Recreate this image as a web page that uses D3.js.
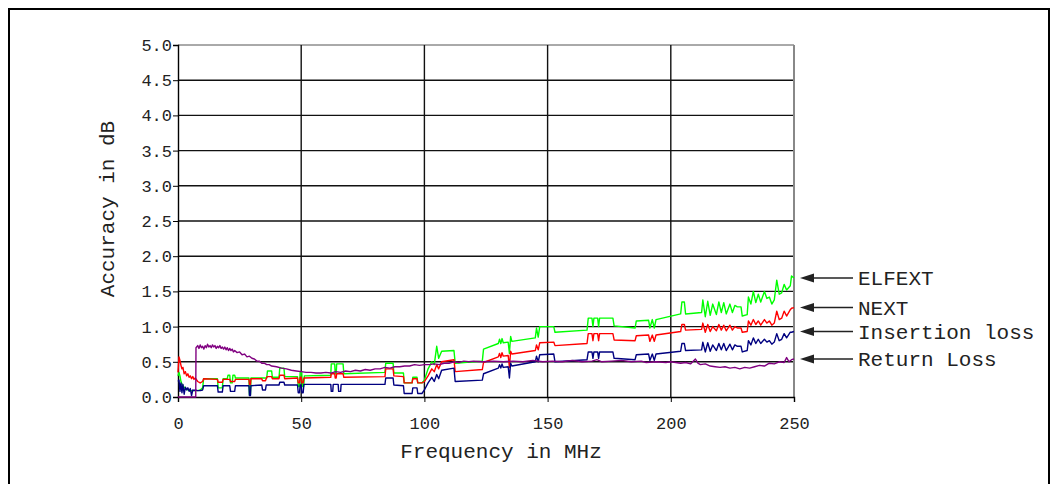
<!DOCTYPE html>
<html>
<head>
<meta charset="utf-8">
<script src="https://cdn.jsdelivr.net/npm/d3@7"></script>
<style>
    body { margin: 0; background: #fff; }
    svg text { font-family: "Liberation Mono", "Courier New", monospace; fill: #222; }
</style>
</head>
<body>
<div id="chart"></div>
<script>
(function () {
    // [MHz, dB]
    var elfext = [
        [0,.30],[0.4,.35],[0.8,.30],[1.2,.22],[1.6,.18],[2,.16],[2.5,.14],[3,.12],[3.5,.11],[4,.10],[5,.09],[6,.09],[7,.09],[8,.09],[9,.10],[10,.13],
        [10.4,.26],[16,.26],[16.3,.13],[18,.13],[18.3,.26],[20,.26],[20.3,.31],[21,.31],[21.3,.20],[22,.20],[22.3,.31],[23,.31],[23.3,.27],
        [28.8,.27],[29,.03],[29.4,.03],[29.6,.27],[36,.27],[36.3,.37],[38,.37],[38.3,.28],[41,.28],[41.3,.41],[43,.41],[43.3,.29],
        [48.5,.29],[48.8,.15],[49.3,.15],[49.6,.36],[50.2,.36],[50.5,.15],[51,.15],[51.3,.30],[62,.31],[62.2,.47],[63.6,.47],[63.8,.33],
        [64.2,.33],[64.4,.47],[67,.47],[67.3,.33],[84,.35],[84.3,.48],[87.3,.48],[87.6,.34],[91.5,.34],[91.8,.20],[95,.20],[95.3,.28],
        [97,.28],[97.3,.20],[99,.20],[100,.24],
        [101.5,.40],[103,.50],[104,.46],[105,.72],[105.8,.55],[107,.65],[112,.66],[112.5,.48],[123.5,.51],[124,.68],[130,.76],
        [130.5,.82],[131,.76],[131.5,.83],[132,.77],[134,.78],[134.5,.62],[135,.86],[135.5,.79],[145,.84],[145.5,.98],[146.2,.85],
        [146.8,1.0],[152.5,1.0],[153,.92],[166,.95],[166.5,1.12],[168,1.12],[168.4,1.0],[168.8,1.12],[170.3,1.12],[170.7,1.0],
        [171.1,1.12],[176.5,1.12],[177,1.01],[185.5,.98],[186,1.08],[191,1.09],[191.5,.98],[192.5,1.10],[193.3,.98],[194,1.10],
        [204,1.18],[204.5,1.35],[205.5,1.35],[206,1.18],[212.5,1.20],[213,1.38],[214,1.14],[215,1.36],[216,1.16],[217,1.32],
        [218.5,1.17],[219.5,1.35],[220.5,1.20],[221.5,1.34],[222.5,1.18],[224,1.32],[225,1.20],[226,1.30],[227,1.28],[228.5,1.28],
        [229,1.15],[231,1.17],[231.5,1.42],[232.5,1.32],[233.5,1.50],[234.5,1.34],[235.5,1.46],[236.5,1.35],[238,1.50],[239,1.40],
        [240,1.42],[241,1.32],[242,1.38],[243,1.66],[244,1.46],[245,1.48],[246,1.60],[247,1.52],[248.5,1.58],[249,1.72],[250,1.69]
    ];

    var next = [
        [0,.35],[0.4,.57],[0.8,.52],[1.2,.45],[1.6,.40],[2,.42],[2.5,.33],[3,.36],[3.5,.30],[4,.33],[4.5,.28],[5,.30],[5.5,.26],[6,.29],
        [6.5,.25],[7,.27],[8,.22],[9,.20],[10,.22],
        [10.4,.26],[16,.25],[16.3,.21],[18,.21],[18.3,.25],[21,.25],[21.3,.22],[23,.22],[23.3,.25],[28.8,.25],[29,.18],[29.4,.18],
        [29.6,.26],[34,.26],[34.3,.23],[35.5,.23],[35.8,.26],[36.2,.29],[38,.29],[38.3,.26],[41,.26],[41.3,.31],[43,.31],[43.3,.26],
        [48.5,.27],[48.8,.20],[49.3,.20],[49.6,.28],[50,.28],[50.3,.20],[50.8,.20],[51.1,.27],[62,.28],[62.2,.33],[63.6,.33],[63.8,.27],
        [64.2,.27],[64.4,.33],[67,.33],[67.3,.28],[84,.29],[84.3,.40],[87.3,.40],[87.6,.30],[91.5,.29],[91.8,.20],[95,.20],[95.3,.26],
        [97,.26],[97.3,.20],[99,.20],[100,.22],
        [101.5,.30],[103,.40],[104,.36],[105,.46],[105.8,.40],[107,.50],[112,.53],[112.5,.36],[123.5,.39],[124,.49],[130,.57],
        [130.5,.62],[131,.56],[131.5,.63],[132,.58],[134,.59],[134.5,.42],[135,.65],[135.5,.61],[145,.66],[145.5,.74],[146.2,.67],
        [146.8,.77],[152.5,.78],[153,.73],[166,.76],[166.5,.90],[168,.90],[168.4,.80],[168.8,.90],[170.3,.90],[170.7,.80],
        [171.1,.90],[176.5,.90],[177,.81],[185.5,.80],[186,.87],[191,.88],[191.5,.79],[192.5,.88],[193.3,.79],[194,.88],
        [204,.93],[204.5,1.03],[205.5,1.03],[206,.95],[212.5,.96],[213,1.05],[214,.92],[215,1.03],[216,.93],[217,1.0],
        [218.5,.94],[219.5,1.03],[220.5,.95],[221.5,1.02],[222.5,.94],[224,1.02],[225,.95],[226,1.0],[227,.98],[228.5,.98],
        [229,.92],[231,.93],[231.5,1.08],[232.5,1.02],[233.5,1.10],[234.5,1.03],[235.5,1.08],[236.5,1.02],[238,1.10],[239,1.05],
        [240,1.08],[241,1.02],[242,1.05],[243,1.22],[244,1.10],[245,1.12],[246,1.22],[247,1.15],[248.5,1.24],[249,1.26],[250,1.27]
    ];

    var insertionLoss = [
        [0,.22],[0.4,.24],[0.8,.08],[1.2,.20],[1.6,.06],[2,.18],[2.5,.04],[3,.14],[3.5,.10],[4,.13],[4.5,.08],[5,.12],[5.5,.02],
        [6,.10],[6.5,.09],[7,.10],[8,.09],[9,.09],[10,.10],
        [10.4,.16],[16,.16],[16.3,.07],[18,.07],[18.3,.16],[21,.16],[21.3,.08],[23,.08],[23.3,.16],[28.8,.16],[29,.02],[29.4,.02],
        [29.6,.16],[34,.17],[34.3,.10],[35.5,.10],[35.8,.17],[41,.17],[41.3,.21],[43,.21],[43.3,.17],[48.5,.17],[48.8,.06],[49.3,.06],
        [49.6,.17],[50,.17],[50.3,.06],[50.8,.06],[51.1,.18],[62,.18],[62.2,.08],[62.8,.08],[63,.18],[65,.18],[65.2,.08],[66,.08],
        [66.2,.18],[75,.18],[84,.18],[84.3,.27],[87.3,.27],[87.6,.17],[91.5,.16],[91.8,.05],[95,.05],[95.3,.13],[97,.13],[97.3,.05],
        [99,.05],[100,.10],
        [101.5,.20],[103,.28],[104,.22],[105,.32],[105.8,.26],[107,.38],[112,.41],[112.5,.22],[123.5,.24],[124,.33],[130,.41],
        [130.5,.46],[131,.41],[131.5,.47],[132,.42],[134,.43],[134.5,.27],[135,.48],[135.5,.44],[145,.50],[145.5,.58],[146.2,.50],
        [146.8,.60],[152.5,.61],[153,.50],[166,.53],[166.5,.64],[168,.64],[168.4,.55],[168.8,.64],[170.3,.64],[170.7,.55],
        [171.1,.64],[176.5,.64],[177,.55],[185.5,.53],[186,.60],[191,.61],[191.5,.52],[192.5,.61],[193.3,.52],[194,.61],
        [204,.65],[204.5,.76],[205.5,.76],[206,.66],[212.5,.67],[213,.78],[214,.64],[215,.77],[216,.65],[217,.74],
        [218.5,.66],[219.5,.76],[220.5,.67],[221.5,.76],[222.5,.66],[224,.75],[225,.67],[226,.74],[227,.72],[228.5,.72],
        [229,.64],[231,.66],[231.5,.80],[232.5,.74],[233.5,.84],[234.5,.76],[235.5,.82],[236.5,.76],[238,.82],[239,.78],
        [240,.80],[241,.75],[242,.78],[243,.90],[244,.80],[245,.82],[246,.90],[247,.84],[248.5,.92],[249,.92],[250,.93]
    ];

    var returnLoss = [
        [0,.00],[7.2,.00],[7.3,.70],[8,.73],[8.5,.69],[9,.74],[9.5,.70],[10,.72],[10.5,.68],[11,.73],[11.5,.70],[12,.75],[12.5,.71],
        [13,.73],[13.5,.70],[14,.74],[14.5,.71],[15,.73],[15.5,.69],[16,.72],[16.5,.70],[17,.73],[17.5,.69],[18,.71],[18.5,.68],
        [19,.71],[19.5,.67],[20,.70],[20.5,.66],[21,.69],[21.5,.66],[22,.68],[22.5,.64],[23,.66],[24,.63],[25,.64],[26,.60],[27,.61],
        [28,.57],[29,.58],[30,.55],[31,.54],[32,.51],[33,.51],[34,.48],[35,.48],[36,.46],[37,.46],[38,.44],[40,.43],[42,.41],[44,.40],
        [46,.38],[48,.37],[50,.36],[52,.35],[54,.35],[56,.34],[58,.34],[60,.35],[62,.34],[64,.36],[66,.35],[68,.37],[70,.36],[72,.38],
        [74,.37],[76,.39],[78,.38],[80,.40],[82,.40],[84,.42],[86,.41],[88,.43],[90,.43],[92,.44],[94,.44],[96,.46],[98,.45],[100,.46],
        [102,.46],[104,.47],[106,.46],[108,.48],[110,.48],[112,.50],[114,.49],[116,.51],[118,.50],[120,.51],[124,.50],[128,.51],
        [132,.50],[136,.51],[140,.50],[144,.52],[148,.50],[152,.51],[156,.50],[160,.52],[164,.50],[168,.51],[170,.53],[172,.50],
        [176,.51],[180,.52],[184,.50],[188,.51],[190,.49],[194,.50],[198,.49],[200,.50],[202,.49],[204,.48],[206,.49],[208,.47],
        [210,.54],[211,.48],[212,.46],[214,.47],[216,.44],[218,.43],[220,.42],[222,.43],[224,.41],[226,.42],[228,.40],[230,.42],
        [232,.41],[234,.43],[236,.45],[238,.44],[240,.48],[242,.47],[244,.50],[246,.49],[247,.56],[248,.50],[249,.53],[250,.54]
    ];

    var seriesNames = ['ELFEXT', 'NEXT', 'Insertion loss', 'Return Loss'];
    var seriesColors = ['#00ff00', '#ff0000', '#000080', '#800080'];
    var seriesData = [elfext, next, insertionLoss, returnLoss];

    var xTicks = [0, 50, 100, 150, 200, 250];
    var yTicks = [0, 0.5, 1, 1.5, 2, 2.5, 3, 3.5, 4, 4.5, 5];

    var width = 1057;
    var height = 484;

    var x = d3.scaleLinear().domain([0, 250]).range([178, 794]);
    var y = d3.scaleLinear().domain([0, 5]).range([397, 45]);

    var svg = d3.select('#chart')
        .append('svg')
        .attr('width', width)
        .attr('height', height);

    // outer frame
    svg.append('rect')
        .attr('x', 9)
        .attr('y', 9)
        .attr('width', 1040)
        .attr('height', 500)
        .attr('fill', 'none')
        .attr('stroke', '#000')
        .attr('stroke-width', 2);

    // grid
    svg.append('g').selectAll('line')
        .data(yTicks.slice(1))
        .enter()
        .append('line')
        .attr('x1', x(0)).attr('x2', x(250))
        .attr('y1', function(d) { return y(d); })
        .attr('y2', function(d) { return y(d); })
        .attr('stroke', function(d) { return d === 5 ? '#555' : '#111'; })
        .attr('stroke-width', function(d) { return d === 5 ? 1 : 1.4; });

    svg.append('g').selectAll('line')
        .data(xTicks.slice(1))
        .enter()
        .append('line')
        .attr('x1', function(d) { return x(d); })
        .attr('x2', function(d) { return x(d); })
        .attr('y1', y(0)).attr('y2', y(5))
        .attr('stroke', function(d) { return d === 250 ? '#888' : '#111'; })
        .attr('stroke-width', function(d) { return d === 250 ? 2 : 1.4; });

    // axes
    var yAxis = svg.append('g')
        .attr('transform', 'translate(' + x(0) + ',0)')
        .call(d3.axisLeft(y).tickValues(yTicks).tickFormat(d3.format('.1f')).tickSize(5).tickPadding(1));

    var xAxis = svg.append('g')
        .attr('transform', 'translate(0,' + y(0) + ')')
        .call(d3.axisBottom(x).tickValues(xTicks).tickSize(5).tickPadding(15));

    [xAxis, yAxis].forEach(function(a) {
        a.select('.domain').attr('stroke', '#000').attr('stroke-width', 1.4);
        a.selectAll('.tick line').attr('stroke', '#000');
        a.selectAll('.tick text')
            .attr('fill', '#222')
            .style('font-family', '"Liberation Mono", monospace')
            .style('font-size', '17px');
    });

    // series
    var line = d3.line()
        .x(function(d) { return x(d[0]); })
        .y(function(d) { return y(d[1]); });

    svg.append('g').selectAll('path')
        .data(seriesData)
        .enter()
        .append('path')
        .attr('d', line)
        .attr('fill', 'none')
        .attr('stroke', function(d, i) { return seriesColors[i]; })
        .attr('stroke-width', 1.4)
        .attr('stroke-linejoin', 'round');

    // arrow legend, pointing at the last value of each series
    var legend = svg.append('g').selectAll('g')
        .data(seriesNames)
        .enter()
        .append('g')
        .attr('transform', function(d, i) {
            var last = seriesData[i][seriesData[i].length - 1];
            return 'translate(0,' + y(last[1]) + ')';
        });

    legend.append('line')
        .attr('x1', 810)
        .attr('x2', 853)
        .attr('stroke', '#222')
        .attr('stroke-width', 1.5);

    legend.append('path')
        .attr('d', 'M800,0L814,-4.5L814,4.5Z')
        .attr('fill', '#222');

    legend.append('text')
        .attr('x', 858)
        .attr('dy', '0.35em')
        .style('font-size', '21px')
        .text(function(d) { return d; });

    // titles
    svg.append('text')
        .attr('x', 501)
        .attr('y', 458)
        .attr('text-anchor', 'middle')
        .style('font-size', '21px')
        .text('Frequency in MHz');

    svg.append('text')
        .attr('transform', 'translate(114,209) rotate(-90)')
        .attr('text-anchor', 'middle')
        .style('font-size', '21px')
        .text('Accuracy in dB');
})();
</script>
</body>
</html>
